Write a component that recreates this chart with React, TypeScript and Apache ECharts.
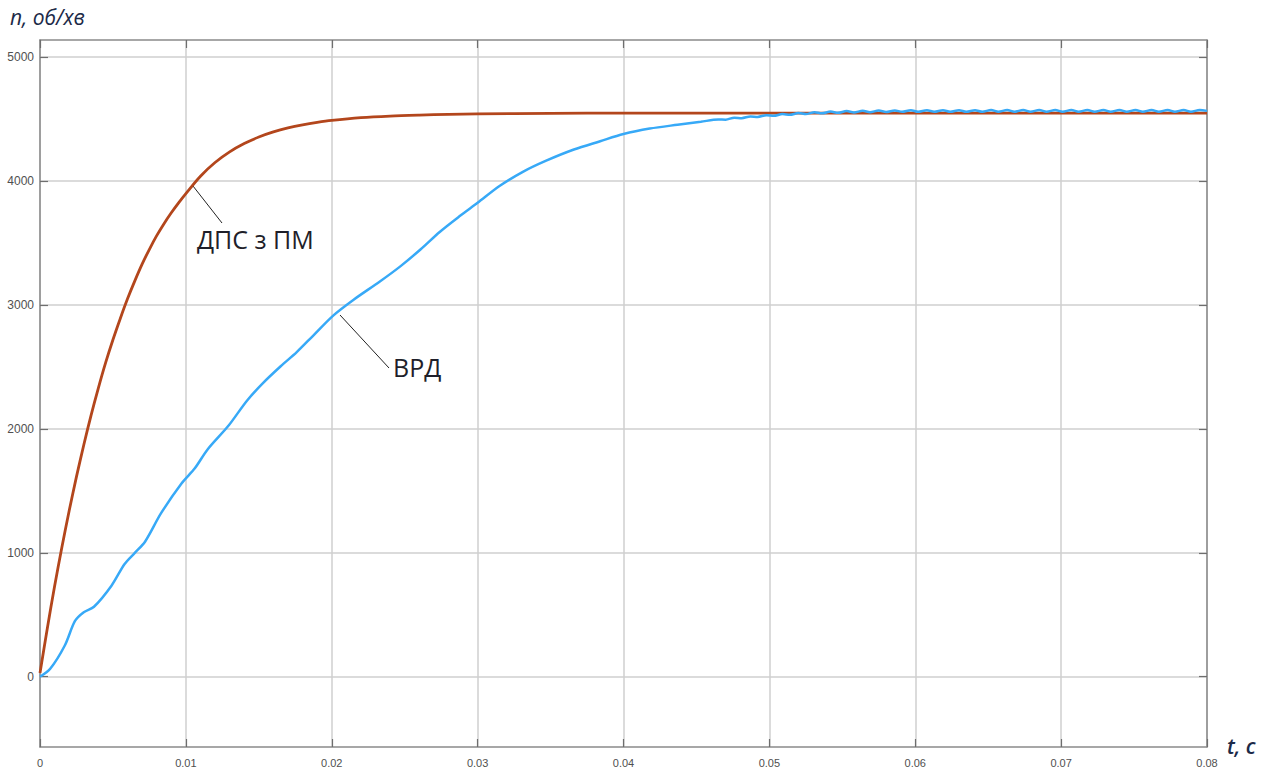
import React, { useEffect, useRef } from "react";
import * as echarts from "echarts";

// t (s), n (rpm)
const dpsData: [number, number][] = [
  [0, 30], [0.0005, 390], [0.001, 730], [0.0015, 1045], [0.002, 1340], [0.0025, 1615],
  [0.003, 1870], [0.0035, 2110], [0.004, 2330], [0.0045, 2535], [0.005, 2720],
  [0.0055, 2890], [0.006, 3050], [0.0065, 3195], [0.007, 3330], [0.0075, 3450],
  [0.008, 3560], [0.0085, 3657], [0.009, 3745], [0.0095, 3825], [0.01, 3900],
  [0.011, 4040], [0.012, 4150], [0.013, 4236], [0.014, 4303], [0.015, 4356],
  [0.016, 4397], [0.017, 4429], [0.018, 4454], [0.019, 4474], [0.02, 4490],
  [0.022, 4512], [0.024, 4525], [0.026, 4533], [0.028, 4539], [0.03, 4543],
  [0.035, 4547], [0.04, 4549], [0.08, 4549],
];

const vrdData: [number, number][] = [
  [0, 0], [0.0007, 64], [0.0017, 252], [0.0024, 450], [0.003, 521], [0.0037, 565],
  [0.0049, 735], [0.0058, 910], [0.0065, 1000], [0.0072, 1090], [0.0083, 1320],
  [0.0097, 1560], [0.0106, 1680], [0.0115, 1836], [0.0129, 2023], [0.0142, 2230],
  [0.0153, 2372], [0.0165, 2506], [0.0176, 2620], [0.0187, 2750], [0.0201, 2915],
  [0.0215, 3043], [0.0233, 3190], [0.0247, 3312], [0.0261, 3450], [0.0274, 3590],
  [0.0288, 3720], [0.03, 3825], [0.0315, 3960], [0.0331, 4075], [0.0347, 4165],
  [0.0366, 4255], [0.0384, 4322], [0.04, 4380], [0.0418, 4424], [0.0437, 4455],
  [0.0453, 4479],
  [0.0465, 4498], [0.047, 4496], [0.0476, 4512], [0.0481, 4508], [0.0487, 4522],
  [0.0492, 4518], [0.0498, 4532], [0.0503, 4527], [0.0509, 4541], [0.0514, 4535],
  [0.052, 4549], [0.0525, 4541], [0.0531, 4556], [0.0536, 4547], [0.0542, 4561],
  [0.0547, 4551], [0.0553, 4565], [0.0558, 4554], [0.0564, 4568], [0.0569, 4556],
  [0.0575, 4570], [0.058, 4558], [0.0586, 4571], [0.0591, 4559], [0.0597, 4572],
  [0.0602, 4559], [0.0608, 4572], [0.0613, 4560], [0.0619, 4573], [0.0624, 4560],
  [0.063, 4573], [0.0635, 4560], [0.0641, 4573], [0.0646, 4560], [0.0652, 4574],
  [0.0657, 4560], [0.0663, 4574], [0.0668, 4560], [0.0674, 4574], [0.0679, 4560],
  [0.0685, 4574], [0.069, 4560], [0.0696, 4574], [0.0701, 4560], [0.0707, 4574],
  [0.0712, 4560], [0.0718, 4574], [0.0723, 4560], [0.0729, 4574], [0.0734, 4560],
  [0.074, 4574], [0.0745, 4560], [0.0751, 4574], [0.0756, 4560], [0.0762, 4574],
  [0.0767, 4560], [0.0773, 4574], [0.0778, 4560], [0.0784, 4574], [0.0789, 4560],
  [0.0795, 4574], [0.08, 4567],
];

const yTicks = [0, 1000, 2000, 3000, 4000, 5000];
const xMin = 0;
const xMax = 0.08;
const xStep = 0.01;
const yMin = -567;
const yMax = 5139;

const seriesNames = ["ДПС з ПМ", "ВРД"];
const yTitle = "n, об/хв";
const xTitle = "t, c";

export default function App() {
  const ref = useRef<HTMLDivElement>(null);
  useEffect(() => {
    if (!ref.current) return;
    const chart = echarts.init(ref.current, null, { renderer: "svg" });
    const axisLineStyle = { color: "#8a8a8a", width: 1.5 };
    const tickStyle = { color: "#6e6e6e", width: 1.2 };
    const labelStyle = {
      color: "#505050",
      fontSize: 12,
      fontFamily: "Liberation Sans, Arial, sans-serif",
    };
    chart.setOption({
      animation: false,
      backgroundColor: "#ffffff",
      grid: { left: 40, top: 40, right: 68, bottom: 27, containLabel: false },
      xAxis: [
        {
          type: "value",
          min: xMin,
          max: xMax,
          interval: xStep,
          axisLine: { show: true, onZero: false, lineStyle: axisLineStyle },
          axisTick: { show: true, inside: true, length: 8, lineStyle: tickStyle },
          axisLabel: {
            ...labelStyle,
            fontSize: 11,
            margin: 10,
            formatter: (v: number) => String(Math.round(v * 1000) / 1000),
          },
          splitLine: { show: true, lineStyle: { color: "#cfcfcf", width: 1.5 } },
        },
        {
          type: "value",
          position: "top",
          min: xMin,
          max: xMax,
          interval: xStep,
          axisLine: { show: true, onZero: false, lineStyle: axisLineStyle },
          axisTick: { show: true, inside: true, length: 8, lineStyle: tickStyle },
          axisLabel: { show: false },
          splitLine: { show: false },
        },
      ],
      yAxis: [
        {
          type: "value",
          min: yMin,
          max: yMax,
          axisLine: { show: true, onZero: false, lineStyle: axisLineStyle },
          axisTick: {
            show: true,
            inside: true,
            length: 8,
            lineStyle: tickStyle,
            customValues: yTicks,
          },
          axisLabel: {
            ...labelStyle,
            margin: 6,
            customValues: yTicks,
            formatter: (v: number) => String(v),
          },
          splitLine: { show: true, lineStyle: { color: "#cfcfcf", width: 1.5 } },
        },
        {
          type: "value",
          position: "right",
          min: yMin,
          max: yMax,
          axisLine: { show: true, onZero: false, lineStyle: axisLineStyle },
          axisTick: {
            show: true,
            inside: true,
            length: 8,
            lineStyle: tickStyle,
            customValues: yTicks,
          },
          axisLabel: { show: false, customValues: yTicks },
          splitLine: { show: false },
        },
      ],
      series: [
        {
          name: seriesNames[0],
          type: "line",
          data: dpsData,
          smooth: 0.3,
          showSymbol: false,
          lineStyle: { color: "#b3461c", width: 2.8 },
          z: 3,
        },
        {
          name: seriesNames[1],
          type: "line",
          data: vrdData,
          smooth: 0.3,
          showSymbol: false,
          lineStyle: { color: "#37a9f7", width: 2.5 },
          z: 4,
        },
      ],
      graphic: [
        {
          type: "text",
          left: 10,
          top: 6,
          style: {
            text: yTitle,
            fill: "#1c2a48",
            font: "italic 21px 'Open Sans', 'DejaVu Sans', sans-serif",
          },
        },
        {
          type: "text",
          left: 1227,
          top: 735,
          style: {
            text: xTitle,
            fill: "#1c2a48",
            font: "italic 600 21px 'Open Sans', 'DejaVu Sans', sans-serif",
          },
        },
        {
          type: "line",
          shape: { x1: 193, y1: 186, x2: 222, y2: 223 },
          style: { stroke: "#222", lineWidth: 1 },
        },
        {
          type: "text",
          left: 197,
          top: 226,
          style: {
            text: seriesNames[0],
            fill: "#1f1f2a",
            font: "25px 'Open Sans', 'Liberation Sans', sans-serif",
          },
        },
        {
          type: "line",
          shape: { x1: 340, y1: 315, x2: 389, y2: 368 },
          style: { stroke: "#222", lineWidth: 1 },
        },
        {
          type: "text",
          left: 393,
          top: 354,
          style: {
            text: seriesNames[1],
            fill: "#1f1f2a",
            font: "25px 'Open Sans', 'Liberation Sans', sans-serif",
          },
        },
      ],
    });
    return () => chart.dispose();
  }, []);
  return (
    <div
      ref={ref}
      style={{ position: "fixed", left: 0, top: 0, width: 1275, height: 774 }}
    />
  );
}
